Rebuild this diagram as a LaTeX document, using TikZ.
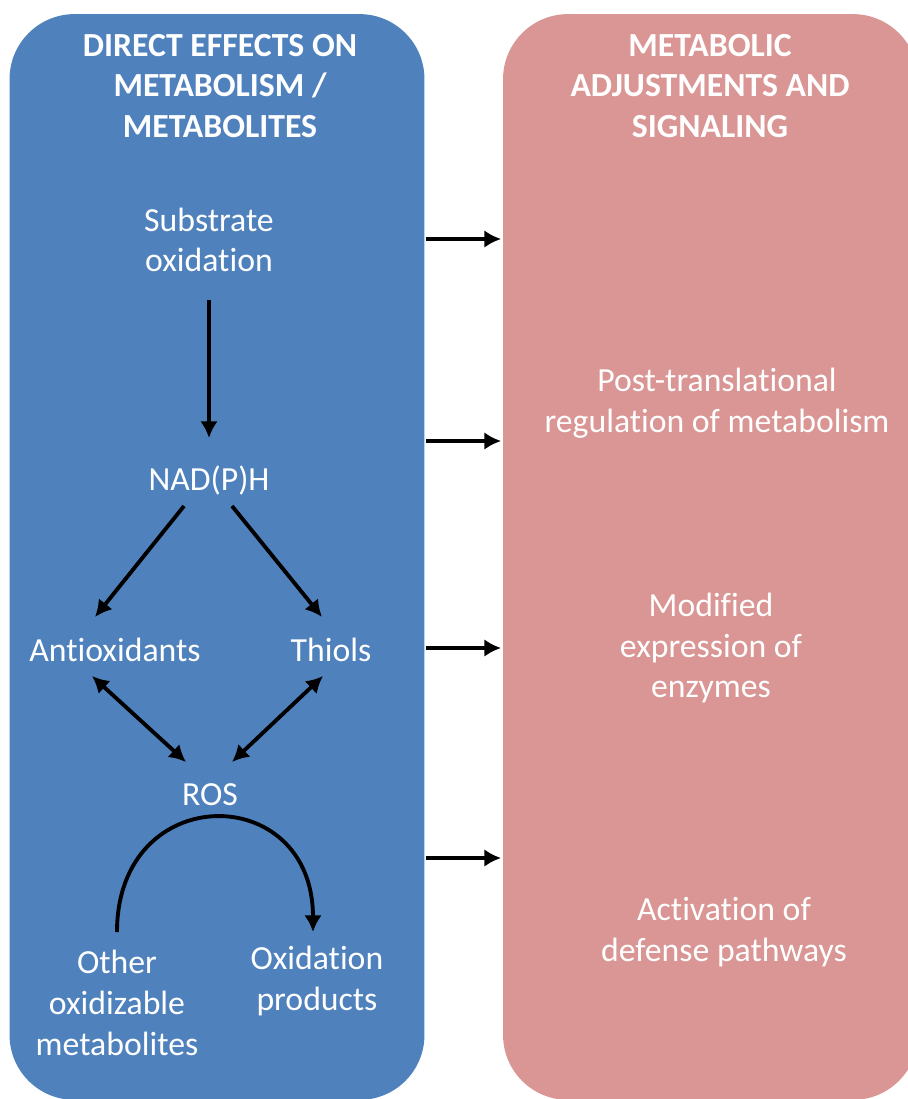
\documentclass[tikz,border=0pt]{standalone}
\usepackage{fontspec}
\setmainfont{Carlito}[Ligatures=NoCommon]
\usetikzlibrary{arrows.meta,calc}

\definecolor{boxblue}{RGB}{79,129,189}
\definecolor{boxpink}{RGB}{217,150,148}

\begin{document}
\begin{tikzpicture}[x=0.02cm,y=-0.02cm,>={Latex[length=9.5pt,width=10pt]},line width=2.2pt,
	txt/.style={text=white,align=center,font=\fontsize{19.2}{23.2}\selectfont},
	head/.style={txt,font=\fontsize{19.2}{23.2}\selectfont\bfseries},
	panel/.style={rounded corners=1.3cm,minimum width=8.3cm,minimum height=21.72cm,inner sep=0pt}]

\useasboundingbox (0,0) rectangle (908,1099);

\begin{scope}
\clip (0,0) rectangle (908,1099);
\node[panel,fill=boxblue] (blue) at (217,557) {};
\node[panel,fill=boxpink] (pink) at (710.5,557) {};
\end{scope}

% left column
\node[head] (lhead) at (220,86) {DIRECT EFFECTS ON\\METABOLISM /\\METABOLITES};
\node[txt] (sub) at (209,240) {Substrate\\oxidation};
\node[txt] (nad) at (209,480) {NAD(P)H};
\node[txt] (anti) at (115,650) {Antioxidants};
\node[txt] (thiol) at (331,650) {Thiols};
\node[txt] (ros) at (210,795) {ROS};
\node[txt] (other) at (117,1003) {Other\\oxidizable\\metabolites};
\node[txt] (oxid) at (317,981) {Oxidation\\products};

% right column
\node[head] (rhead) at (710,86) {METABOLIC\\ADJUSTMENTS AND\\SIGNALING};
\node[txt] (ptr) at (717,403) {Post-translational\\regulation of metabolism};
\node[txt] (mod) at (711,648) {Modified\\expression of\\enzymes};
\node[txt] (act) at (724,932) {Activation of\\defense pathways};

\draw[->] ($(sub)+(0,60)$) -- ($(nad)+(0,-42)$);
\draw[->] ($(nad)+(-25,26)$) -- ($(anti)+(-20,-33)$);
\draw[->] ($(nad)+(23,26)$) -- ($(thiol)+(-9,-33)$);
\draw[<->] ($(anti)+(-23,26)$) -- ($(ros)+(-24,-33)$);
\draw[<->] ($(thiol)+(-8,26)$) -- ($(ros)+(22,-33)$);
\draw[->] ($(other)+(0,-71)$) .. controls +(0,-152) and +(0,-152) .. ($(oxid)+(-4,-49)$);

\foreach \y in {239,441,648,858}{
	\coordinate (h) at (0,\y);
	\draw[->] (blue.east |- h) -- (pink.west |- h);
}

\end{tikzpicture}
\end{document}
